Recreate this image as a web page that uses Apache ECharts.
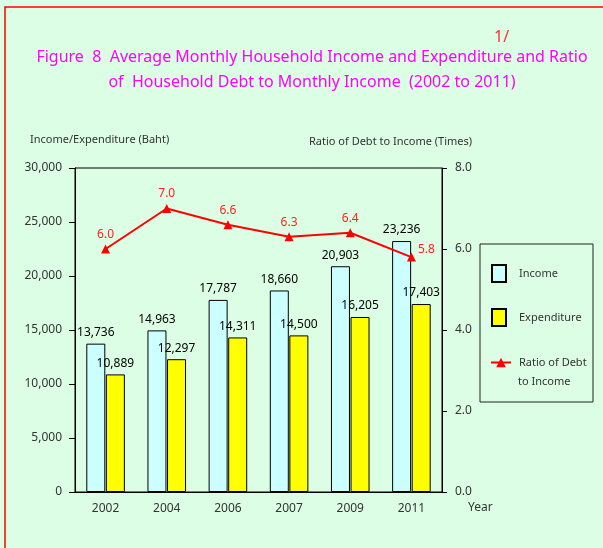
<!DOCTYPE html>
<html>
<head>
<meta charset="utf-8">
<script src="https://cdn.jsdelivr.net/npm/echarts@6/dist/echarts.min.js"></script>
<style>
  html, body { margin: 0; padding: 0; background: #dcfee4; }
  #chart { width: 603px; height: 548px; }
</style>
</head>
<body>
<div id="chart"></div>
<script>
  // data
  const years = ['2002', '2004', '2006', '2007', '2009', '2011']
  const income = [13736, 14963, 17787, 18660, 20903, 23236]
  const expenditure = [10889, 12297, 14311, 14500, 16205, 17403]
  const ratio = [6.0, 7.0, 6.6, 6.3, 6.4, 5.8]

  const font = 'Noto Sans'
  const comma = v => String(v).replace(/\B(?=(\d{3})+(?!\d))/g, ',')

  const chart = echarts.init(document.getElementById('chart'))
  chart.setOption({
    backgroundColor: '#dcfee4',
    textStyle: { fontFamily: font },
    title: {
      text: 'Figure  8  Average Monthly Household Income and Expenditure and Ratio\nof  Household Debt to Monthly Income  (2002 to 2011)',
      left: 307,
      top: 40,
      textAlign: 'center',
      textStyle: { color: '#ff00ff', fontSize: 16, fontWeight: 'normal', lineHeight: 25, fontFamily: font }
    },
    grid: {
      left: 75,
      right: 161,
      top: 168,
      bottom: 56,
      show: true,
      borderColor: '#000',
      borderWidth: 1
    },
    legend: [
      {
        data: ['Income'], left: 491, top: 264, padding: 0, icon: 'rect',
        itemWidth: 14, itemHeight: 17,
        textStyle: { color: '#333', fontSize: 11, padding: [0, 0, 0, 8] }
      },
      {
        data: ['Expenditure'], left: 491, top: 308, padding: 0, icon: 'rect',
        itemWidth: 14, itemHeight: 17,
        textStyle: { color: '#333', fontSize: 11, padding: [0, 0, 0, 8] }
      },
      {
        data: ['Ratio of Debt to Income'], left: 490, top: 357, padding: 0,
        itemWidth: 20, itemHeight: 12,
        formatter: () => 'Ratio of Debt',
        textStyle: { color: '#333', fontSize: 11, padding: [0, 0, 0, 3] }
      }
    ],
    xAxis: {
      type: 'category',
      data: years,
      axisLine: { lineStyle: { color: '#000' } },
      axisTick: { show: false },
      axisLabel: { color: '#333', fontSize: 12, margin: 11 }
    },
    yAxis: [
      {
        type: 'value',
        min: 0,
        max: 30000,
        interval: 5000,
        axisLine: { show: true, lineStyle: { color: '#000' } },
        axisTick: { show: true, length: 6, lineStyle: { color: '#000' } },
        axisLabel: { color: '#333', fontSize: 12, margin: 13, formatter: comma },
        splitLine: { show: false }
      },
      {
        type: 'value',
        min: 0,
        max: 8,
        interval: 2,
        axisLine: { show: true, lineStyle: { color: '#000' } },
        axisTick: { show: true, length: 5, lineStyle: { color: '#000' } },
        axisLabel: { color: '#333', fontSize: 12, margin: 13, formatter: v => v.toFixed(1) },
        splitLine: { show: false }
      }
    ],
    series: [
      {
        name: 'Income',
        type: 'bar',
        data: income,
        barWidth: 19,
        barGap: '3%',
        itemStyle: { color: '#ccffff', borderColor: '#000', borderWidth: 1 },
        label: { show: true, position: 'top', color: '#000', fontSize: 12, formatter: p => comma(p.value) }
      },
      {
        name: 'Expenditure',
        type: 'bar',
        data: expenditure,
        barWidth: 19,
        itemStyle: { color: '#ffff00', borderColor: '#000', borderWidth: 1 },
        label: { show: true, position: 'top', color: '#000', fontSize: 12, formatter: p => comma(p.value) }
      },
      {
        name: 'Ratio of Debt to Income',
        type: 'line',
        yAxisIndex: 1,
        data: ratio.map((v, i) => i === ratio.length - 1
          ? { value: v, label: { position: 'right', offset: [-2, -8] } }
          : v),
        symbol: 'triangle',
        symbolSize: 9,
        lineStyle: { color: '#ff0000', width: 2 },
        itemStyle: { color: '#ff0000' },
        label: {
          show: true, position: 'top', distance: 4, color: '#ff2020', fontSize: 12,
          formatter: p => p.value.toFixed(1)
        }
      }
    ],
    graphic: [
      // red frame on top and left
      { type: 'rect', shape: { x: 5, y: 7, width: 700, height: 700 }, style: { fill: 'none', stroke: '#ff0000', lineWidth: 1.5 }, silent: true },
      { type: 'text', left: 494, top: 29, style: { text: '1/', fill: '#ff3030', fontSize: 16, fontFamily: font } },
      { type: 'text', left: 30, top: 134, style: { text: 'Income/Expenditure (Baht)', fill: '#333', fontSize: 11, fontFamily: font } },
      { type: 'text', left: 309, top: 136, style: { text: 'Ratio of Debt to Income (Times)', fill: '#333', fontSize: 11, fontFamily: font } },
      { type: 'text', left: 468, top: 502, style: { text: 'Year', fill: '#333', fontSize: 12, fontFamily: font } },
      { type: 'text', left: 518, top: 376, style: { text: 'to Income', fill: '#333', fontSize: 11, fontFamily: font } },
      // legend frame
      { type: 'rect', shape: { x: 480, y: 244, width: 113, height: 158 }, style: { fill: 'none', stroke: '#222', lineWidth: 1 }, silent: true }
    ]
  })
</script>
</body>
</html>
